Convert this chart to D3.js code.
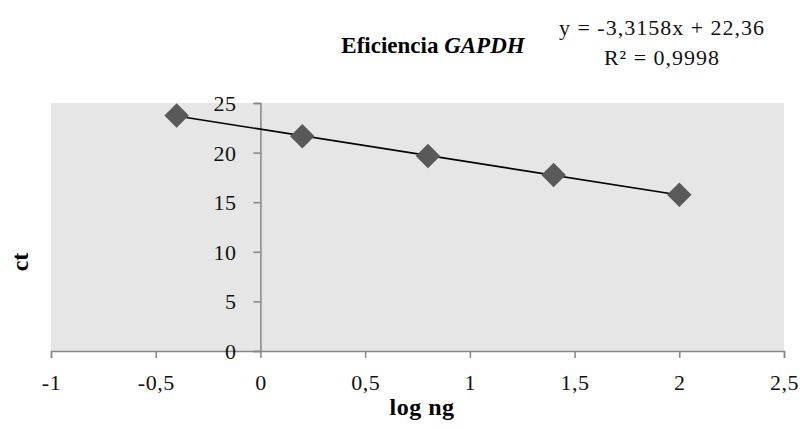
<!DOCTYPE html>
<html>
<head>
<meta charset="utf-8">
<script src="https://cdn.jsdelivr.net/npm/d3@7"></script>
</head>
<body style="margin:0;background:#fff">
<script>
// data
var logNg = [-0.4, 0.2, 0.8, 1.4, 2.0];
var ct = [23.75, 21.65, 19.65, 17.75, 15.75];
var xTicks = [-1, -0.5, 0, 0.5, 1, 1.5, 2, 2.5];
var yTicks = [0, 5, 10, 15, 20, 25];
var slope = -3.3158, intercept = 22.36;

var FONT = "'Liberation Serif', 'Times New Roman', serif";
var width = 800, height = 430;
var svg = d3.select("body").append("svg")
  .attr("width", width).attr("height", height)
  .style("font-family", FONT);

var x = d3.scaleLinear().domain([-1, 2.5]).range([51, 784]);
var y = d3.scaleLinear().domain([0, 25]).range([351, 103]);

var fmt = function(d) { return String(d).replace(".", ","); };

// plot area
svg.append("rect")
  .attr("x", x(-1)).attr("y", y(25))
  .attr("width", x(2.5) - x(-1)).attr("height", y(0) - y(25))
  .attr("fill", "#e6e6e6");

// axes
var xa = svg.append("g")
  .attr("transform", "translate(0," + y(0) + ")")
  .call(d3.axisBottom(x).tickValues(xTicks).tickFormat(fmt).tickSize(7).tickPadding(16));
var ya = svg.append("g")
  .attr("transform", "translate(" + x(0) + ",0)")
  .call(d3.axisLeft(y).tickValues(yTicks).tickSize(7).tickPadding(17));

[xa, ya].forEach(function(a) {
  a.attr("font-size", 22);
  a.select(".domain").attr("stroke", "#868686").attr("stroke-width", 1.5);
  a.selectAll(".tick line").attr("stroke", "#868686").attr("stroke-width", 1.5);
  a.selectAll(".tick text").attr("fill", "#111").style("font-family", FONT)
    .attr("letter-spacing", 0.5);
});
ya.selectAll(".tick text").attr("dy", "0.34em");

// trend line
svg.append("line")
  .attr("x1", x(d3.min(logNg))).attr("y1", y(slope * d3.min(logNg) + intercept))
  .attr("x2", x(d3.max(logNg))).attr("y2", y(slope * d3.max(logNg) + intercept))
  .attr("stroke", "#000").attr("stroke-width", 1.6);

// points
svg.selectAll("path.pt")
  .data(logNg)
  .enter().append("path")
  .attr("class", "pt")
  .attr("d", d3.symbol().type(d3.symbolSquare).size(300))
  .attr("transform", function(d, i) { return "translate(" + x(d) + "," + y(ct[i]) + ") rotate(45)"; })
  .attr("fill", "#595959");

// title
var t = svg.append("text")
  .attr("x", 433).attr("y", 53)
  .attr("text-anchor", "middle")
  .style("font-family", FONT).attr("font-size", 23).attr("font-weight", "bold")
  .attr("fill", "#000");
t.append("tspan").text("Eficiencia ");
t.append("tspan").attr("font-style", "italic").text("GAPDH");

// equation
svg.append("text")
  .attr("x", 662).attr("y", 35)
  .attr("text-anchor", "middle")
  .style("font-family", FONT).attr("font-size", 22).attr("letter-spacing", 1)
  .attr("fill", "#111")
  .text("y = -3,3158x + 22,36");
svg.append("text")
  .attr("x", 662).attr("y", 65)
  .attr("text-anchor", "middle")
  .style("font-family", FONT).attr("font-size", 22).attr("letter-spacing", 1)
  .attr("fill", "#111")
  .text("R² = 0,9998");

// axis titles
svg.append("text")
  .attr("x", 422).attr("y", 415)
  .attr("text-anchor", "middle")
  .style("font-family", FONT).attr("font-size", 24).attr("font-weight", "bold")
  .attr("letter-spacing", 0.5).attr("fill", "#000")
  .text("log ng");
svg.append("text")
  .attr("transform", "translate(28,262) rotate(-90)")
  .attr("text-anchor", "middle")
  .style("font-family", FONT).attr("font-size", 24).attr("font-weight", "bold")
  .attr("fill", "#000")
  .text("ct");
</script>
</body>
</html>
